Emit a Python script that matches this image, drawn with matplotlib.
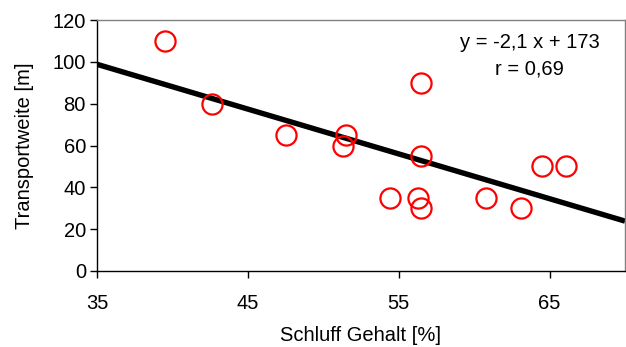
import matplotlib
matplotlib.use("Agg")
import matplotlib.pyplot as plt
import numpy as np

plt.rcParams['font.family'] = ['Liberation Sans', 'DejaVu Sans']

schluff = [39.5, 42.6, 47.5, 51.5, 51.3, 54.4, 56.5, 56.5, 56.3, 56.5, 60.8, 63.1, 64.5, 66.1]
transport = [110, 80, 65, 65, 60, 35, 90, 55, 35, 30, 35, 30, 50, 50]
xticks = [35, 45, 55, 65]
yticks = [0, 20, 40, 60, 80, 100, 120]
equation_text = 'y = -2,1 x + 173\nr = 0,69'

fig = plt.figure(figsize=(6.26, 3.47), dpi=100)
ax = fig.add_axes([97/626, 1-271/347, 528/626, 251/347])

slope, intercept = np.polyfit(schluff, transport, 1)
xl = np.array([35, 70])
ax.plot(xl, slope*xl + intercept, color='black', lw=3.9, solid_capstyle='butt', zorder=2)
ax.plot(schluff, transport, 'o', ms=14.5, mfc='none', mec='#ff0000', mew=1.6, zorder=3, clip_on=False)

ax.set_xlim(35, 70)
ax.set_ylim(0, 120)
ax.set_xticks(xticks)
ax.set_yticks(yticks)
ax.tick_params(axis='both', direction='out', length=5, width=1, labelsize=14.5, colors='black')
ax.tick_params(axis='x', pad=11.5)
ax.tick_params(axis='y', pad=3)
for s in ['top', 'right']:
    ax.spines[s].set_color('#808080')
for s in ['left', 'bottom']:
    ax.spines[s].set_color('black')
for s in ax.spines.values():
    s.set_linewidth(1)

ax.set_xlabel('Schluff Gehalt [%]', fontsize=14.5, labelpad=9.5)
ax.set_ylabel('Transportweite [m]', fontsize=14.5, labelpad=13.5)

ax.text(0.819, 0.950, equation_text, transform=ax.transAxes,
        ha='center', va='top', fontsize=14.5, linespacing=1.5)

fig.savefig('out.png', dpi=100)
